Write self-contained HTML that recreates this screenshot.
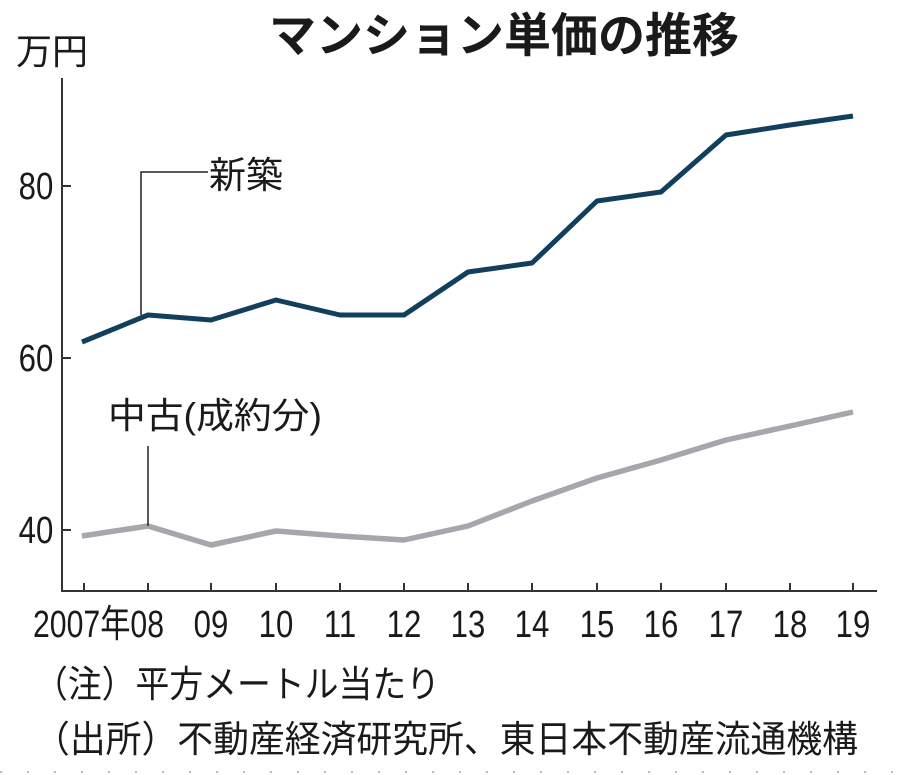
<!DOCTYPE html>
<html><head><meta charset="utf-8"><style>
html,body{margin:0;padding:0;background:#fff;}
svg{display:block}
text{font-family:"Liberation Sans","Noto Sans CJK JP",sans-serif;fill:#1a1a1a}
</style></head><body>
<svg width="900" height="775" viewBox="0 0 900 775" xmlns="http://www.w3.org/2000/svg">
<line x1="0" y1="772" x2="900" y2="772" stroke="#bbb" stroke-width="2" stroke-dasharray="2,25"/>
<text x="504" y="52" font-size="47" font-weight="bold" text-anchor="middle" font-family="Noto Sans CJK JP">マンション単価の推移</text>
<text x="16" y="64" font-size="36" font-family="Noto Sans CJK JP">万円</text>
<line x1="62" y1="78" x2="62" y2="592" stroke="#333" stroke-width="2"/>
<line x1="62" y1="591" x2="877" y2="591" stroke="#333" stroke-width="2"/>
<g stroke="#333" stroke-width="2">
<line x1="62" y1="186" x2="71" y2="186"/><line x1="62" y1="358" x2="71" y2="358"/><line x1="62" y1="530" x2="71" y2="530"/>
<line x1="84" y1="583" x2="84" y2="591"/><line x1="148" y1="583" x2="148" y2="591"/><line x1="211" y1="583" x2="211" y2="591"/><line x1="276" y1="583" x2="276" y2="591"/><line x1="340" y1="583" x2="340" y2="591"/><line x1="404" y1="583" x2="404" y2="591"/><line x1="468" y1="583" x2="468" y2="591"/><line x1="532" y1="583" x2="532" y2="591"/><line x1="597" y1="583" x2="597" y2="591"/><line x1="661" y1="583" x2="661" y2="591"/><line x1="726" y1="583" x2="726" y2="591"/><line x1="790" y1="583" x2="790" y2="591"/><line x1="853" y1="583" x2="853" y2="591"/>
</g>
<g font-size="38" text-anchor="end" transform="scale(0.82,1)">
<text x="65" y="199">80</text><text x="65" y="371">60</text><text x="65" y="543">40</text>
</g>
<text x="33" y="637" font-size="38" textLength="131" lengthAdjust="spacingAndGlyphs">2007年08</text>
<g font-size="38" text-anchor="middle">
<text x="211" y="637" transform="translate(211,0) scale(0.82,1) translate(-211,0)">09</text>
<text x="276" y="637" transform="translate(276,0) scale(0.82,1) translate(-276,0)">10</text>
<text x="340" y="637" transform="translate(340,0) scale(0.82,1) translate(-340,0)">11</text>
<text x="404" y="637" transform="translate(404,0) scale(0.82,1) translate(-404,0)">12</text>
<text x="468" y="637" transform="translate(468,0) scale(0.82,1) translate(-468,0)">13</text>
<text x="532" y="637" transform="translate(532,0) scale(0.82,1) translate(-532,0)">14</text>
<text x="597" y="637" transform="translate(597,0) scale(0.82,1) translate(-597,0)">15</text>
<text x="661" y="637" transform="translate(661,0) scale(0.82,1) translate(-661,0)">16</text>
<text x="726" y="637" transform="translate(726,0) scale(0.82,1) translate(-726,0)">17</text>
<text x="790" y="637" transform="translate(790,0) scale(0.82,1) translate(-790,0)">18</text>
<text x="853" y="637" transform="translate(853,0) scale(0.82,1) translate(-853,0)">19</text>
</g>
<polyline fill="none" stroke="#aaa5ad" stroke-width="5.5" stroke-linejoin="round" points="82,536 148,526 211,545 276,531 340,536 404,540 468,526 532,501 597,478 661,460 726,440 790,426 853,412"/>
<polyline fill="none" stroke="#123f5c" stroke-width="5" stroke-linejoin="round" points="82,342 148,315 211,320 276,300 340,315 404,315 468,272 532,263 597,201 661,192 726,135 790,125 853,116"/>
<polyline fill="none" stroke="#222" stroke-width="1.5" points="141,315 141,172 208,172"/>
<text x="209" y="188" font-size="37" font-family="Noto Sans CJK JP">新築</text>
<line x1="148" y1="446" x2="148" y2="526" stroke="#222" stroke-width="1.5"/>
<text x="108" y="428" font-size="36" textLength="214" lengthAdjust="spacingAndGlyphs" font-family="Noto Sans CJK JP">中古(成約分)</text>
<text x="34" y="697" font-size="37" textLength="406" lengthAdjust="spacingAndGlyphs" font-family="Noto Sans CJK JP">（注）平方メートル当たり</text>
<text x="34" y="752" font-size="37" textLength="824" lengthAdjust="spacingAndGlyphs" font-family="Noto Sans CJK JP">（出所）不動産経済研究所、東日本不動産流通機構</text>
</svg>
</body></html>
